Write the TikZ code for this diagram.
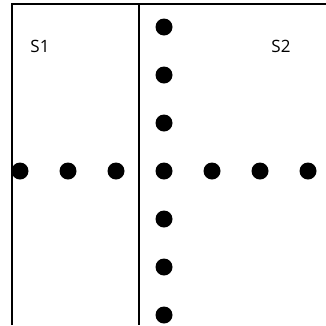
\documentclass[tikz,border=0pt]{standalone}
\usepackage{fontspec}
\setmainfont{Open Sans}
\begin{document}
\begin{tikzpicture}[x=1pt,y=-1pt,
  dot/.style={circle,fill=black,inner sep=0pt,minimum size=17pt},
  lbl/.style={font=\fontsize{17pt}{20pt}\selectfont,inner sep=0pt},
  wall/.style={line width=1.8pt}]
\useasboundingbox (0,0) rectangle (326,325);
\coordinate (tl) at (12,4);
\coordinate (tr) at (326,4);
\coordinate (bl) at (12,325);
\coordinate (mt) at (139,4);
\coordinate (mb) at (139,325);
\draw[wall] (bl) -- (tl) -- (tr);
\draw[wall] (mt) -- (mb);
\node[lbl] (s1) at (40,46) {S1};
\node[lbl] (s2) at (281,46) {S2};
\foreach \i in {0,...,6} {
  \node[dot] (r\i) at (20+48*\i,171) {};
}
\foreach \i in {0,1,2,4,5,6} {
  \node[dot] (c\i) at (164,27+48*\i) {};
}
\end{tikzpicture}
\end{document}
